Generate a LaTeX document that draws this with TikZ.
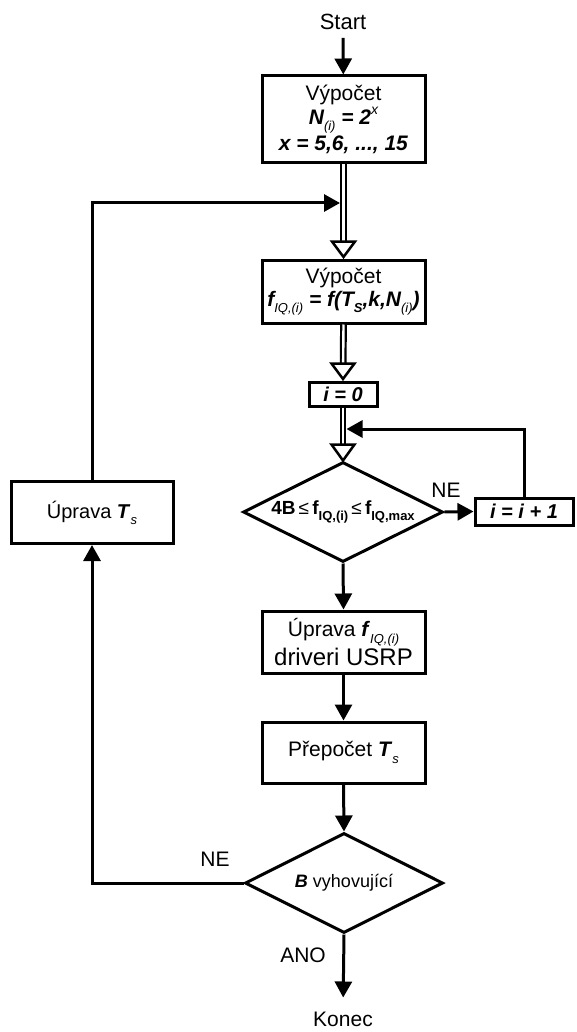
\documentclass[tikz,border=0pt]{standalone}
\usepackage{fontspec}
\setmainfont{Liberation Sans}
\usetikzlibrary{arrows.meta,calc,shapes.geometric}

% small lowered / raised indices
\newcommand\lo[1]{\raisebox{-0.3em}{\fontsize{13}{13}\selectfont #1}}
\newcommand\hi[1]{\raisebox{0.5em}{\fontsize{14}{14}\selectfont #1}}
\newcommand\bi[1]{\textbf{\textit{#1}}}

\tikzset{
  base/.style={font=\fontsize{21}{25}\selectfont, inner sep=0pt},
  proc/.style={base, draw, line width=3pt, align=center},
  cond/.style={base, draw, diamond, line width=3pt, aspect=2},
  lbl/.style={base},
  flow/.style={line width=3pt, -{Triangle[width=17pt,length=16pt]}},
  dbl/.style={double, double distance=2.4pt, line width=2.2pt, shorten >=16pt},
  opentip/.style={line width=2.5pt, fill=white, line join=miter},
}
% open triangular head placed just above a node anchor
\newcommand\hollowhead[1]{%
  \draw[opentip] ($(#1)+(-11.5,-17)$) -- ($(#1)+(11.5,-17)$) -- ($(#1)+(0,-1.5)$) -- cycle;}

\begin{document}
\begin{tikzpicture}[x=1pt,y=-1pt]
  \useasboundingbox (0,0) rectangle (576,1032);

  \node[lbl, font=\fontsize{22}{25}\selectfont] (start) at (343,22) {Start};
  \node[proc, minimum width=163pt, minimum height=87pt] (calcN) at (343.5,119.5)
    {Výpočet\\[-1pt]
     {\bfseries\itshape N\lo{\mdseries(i)} = 2\hi{\mdseries x}}\\[1pt]
     \bi{x = 5,6, ..., 15}};
  \node[proc, minimum width=163pt, minimum height=63pt] (calcF) at (343.5,291.5)
    {Výpočet\\[-2pt]
     {\bfseries\itshape f\lo{\mdseries IQ,(i)} = f(T\lo{S},k,N\lo{\mdseries(i)})}};
  \node[proc, minimum width=68pt, minimum height=24pt, font=\fontsize{20}{20}\selectfont] (init) at (343,394)
    {\bi{i = 0}};
  \node[cond, minimum width=200pt, minimum height=100pt, font=\fontsize{19}{19}\selectfont] (test) at (343,512)
    {\bfseries 4B\,{\mdseries ≤}\,f\lo{IQ,(i)}\,{\mdseries ≤}\,f\lo{IQ,max}};
  \node[proc, minimum width=98pt, minimum height=27pt, font=\fontsize{20}{20}\selectfont] (incr) at (524,511.5)
    {\bi{i = i + 1}};
  \node[proc, minimum width=162pt, minimum height=62pt, font=\fontsize{20}{24}\selectfont] (adjT) at (92,512.5)
    {Úprava \bi{T}\lo{\itshape s}};
  \node[proc, minimum width=163pt, minimum height=62pt] (adjF) at (343.5,642)
    {Úprava \bi{f}\lo{\itshape IQ,(i)}\\[1pt]{\fontsize{24}{24}\selectfont driveri USRP}};
  \node[proc, minimum width=163pt, minimum height=61pt] (recalc) at (343.5,752.5)
    {Přepočet \bi{T}\lo{\itshape s}};
  \node[cond, minimum width=198pt, minimum height=100pt, font=\fontsize{18}{18}\selectfont] (ok) at (344,883)
    {\bi{B} vyhovující};
  \node[lbl] (stop) at (343,1019) {Konec};

  % merge points on the double lines
  \coordinate (j1) at (343.5,203);
  \coordinate (j2) at (343,429);

  % main path
  \draw[flow, shorten <=8pt] (start) -- (calcN);
  \draw[dbl] (calcN.south) -- (calcF.north);
  \hollowhead{calcF.north}
  \draw[dbl] (calcF.south) -- (init.north);
  \hollowhead{init.north}
  \draw[dbl] (init.south) -- (test.north);
  \draw[opentip] ($(test.north)+(-11.5,-16)$) -- ($(test.north)+(11.5,-16)$) -- (test.north) -- cycle;
  \draw[flow] (test.south) -- (adjF.north);
  \draw[flow] (adjF.south) -- (recalc.north);
  \draw[flow] (recalc.south) -- (ok.north);
  \draw[flow, shorten >=14pt] (ok.south) -- (stop.north);

  % loops
  \draw[flow] (test.east) -- (incr.west);
  \draw[flow, shorten >=3.5pt] (incr.north) |- (j2);
  \draw[flow] (ok.west) -| (adjT.south);
  \draw[flow, shorten >=3.5pt] (adjT.north) |- (j1);

  \node[lbl] (ne1) at (446,490) {NE};
  \node[lbl] (ne2) at (215,859) {NE};
  \node[lbl] (yes) at (303,955) {ANO};
\end{tikzpicture}
\end{document}
